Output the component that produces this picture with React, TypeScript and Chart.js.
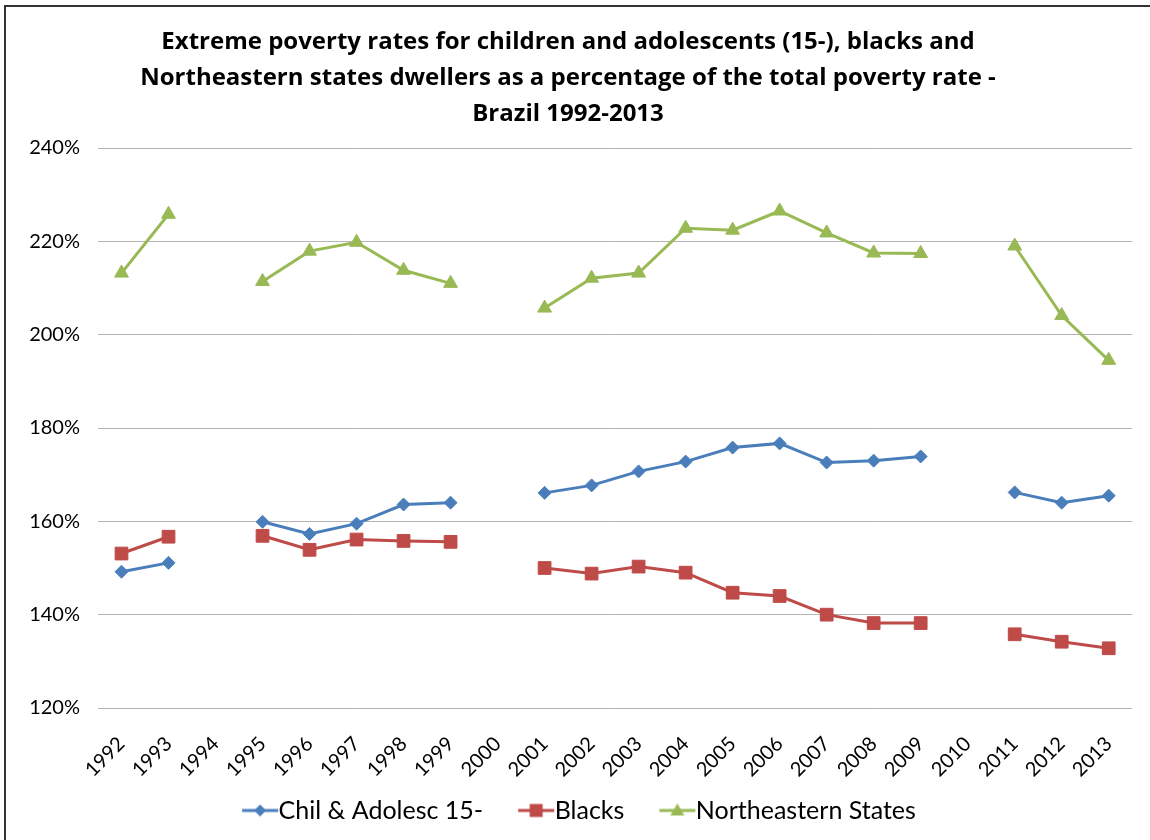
import React, { useEffect, useRef } from "react";
import { Chart, registerables } from "chart.js";

Chart.register(...registerables);

const years = [
  "1992", "1993", "1994", "1995", "1996", "1997", "1998", "1999", "2000", "2001", "2002",
  "2003", "2004", "2005", "2006", "2007", "2008", "2009", "2010", "2011", "2012", "2013",
];

const chilAdolesc = [
  149.2, 151.1, null, 159.9, 157.3, 159.5, 163.6, 164.0, null, 166.1, 167.7,
  170.7, 172.8, 175.8, 176.7, 172.6, 173.0, 173.9, null, 166.2, 164.0, 165.5,
];

const blacks = [
  153.1, 156.7, null, 156.9, 153.9, 156.1, 155.8, 155.6, null, 150.0, 148.8,
  150.3, 149.0, 144.7, 144.0, 140.0, 138.2, 138.2, null, 135.8, 134.2, 132.8,
];

const northeastern = [
  213.2, 225.8, null, 211.4, 217.9, 219.8, 213.8, 211.0, null, 205.7, 212.1,
  213.2, 222.8, 222.4, 226.5, 221.8, 217.5, 217.4, null, 219.0, 204.1, 194.5,
];

const seriesNames = ["Chil & Adolesc 15-", "Blacks", "Northeastern States"];
const titleLines = [
  "Extreme poverty rates for children and adolescents (15-), blacks and",
  "Northeastern states dwellers as a percentage of the total poverty rate -",
  "Brazil 1992-2013",
];

const BLUE = "#4A7EBB";
const RED = "#BE4B48";
const GREEN = "#98B954";
const FONT = "Lato, 'Open Sans', sans-serif";
const TITLE_FONT = "'Open Sans', Lato, sans-serif";

// legend icon: line with marker, drawn into a wide canvas so the line reaches the text
function legendIcon(color: string, kind: "diamond" | "square" | "triangle") {
  const c = document.createElement("canvas");
  c.width = 72;
  c.height = 18;
  const ctx = c.getContext("2d")!;
  ctx.strokeStyle = color;
  ctx.fillStyle = color;
  ctx.lineWidth = 3;
  ctx.beginPath();
  ctx.moveTo(35, 9);
  ctx.lineTo(71, 9);
  ctx.stroke();
  const cx = 53;
  ctx.beginPath();
  if (kind === "diamond") {
    ctx.moveTo(cx, 3);
    ctx.lineTo(cx + 6, 9);
    ctx.lineTo(cx, 15);
    ctx.lineTo(cx - 6, 9);
  } else if (kind === "square") {
    ctx.rect(cx - 6.5, 2.5, 13, 13);
  } else {
    ctx.moveTo(cx, 2);
    ctx.lineTo(cx + 7, 14);
    ctx.lineTo(cx - 7, 14);
  }
  ctx.closePath();
  ctx.fill();
  return c;
}

export default function App() {
  const ref = useRef<HTMLCanvasElement>(null);

  useEffect(() => {
    if (!ref.current) return;
    const icons = [
      legendIcon(BLUE, "diamond"),
      legendIcon(RED, "square"),
      legendIcon(GREEN, "triangle"),
    ];
    const chart = new Chart(ref.current, {
      type: "line",
      data: {
        labels: years,
        datasets: [
          {
            label: seriesNames[0],
            data: chilAdolesc,
            borderColor: BLUE,
            backgroundColor: BLUE,
            pointStyle: "rectRot",
            pointRadius: 6.5,
            pointBorderWidth: 1,
            borderWidth: 3,
            spanGaps: false,
          },
          {
            label: seriesNames[1],
            data: blacks,
            borderColor: RED,
            backgroundColor: RED,
            pointStyle: "rect",
            pointRadius: 9,
            pointBorderWidth: 1,
            borderWidth: 3,
            spanGaps: false,
          },
          {
            label: seriesNames[2],
            data: northeastern,
            borderColor: GREEN,
            backgroundColor: GREEN,
            pointStyle: "triangle",
            pointRadius: 8,
            pointBorderWidth: 1,
            borderWidth: 3,
            spanGaps: false,
          },
        ],
      },
      options: {
        animation: false,
        responsive: false,
        layout: { padding: { left: 0, right: 14, top: 0, bottom: 7 } },
        plugins: {
          title: {
            display: true,
            text: titleLines,
            color: "#000",
            font: { family: TITLE_FONT, size: 24, weight: "bold", lineHeight: 1.5 },
            padding: { top: 24, bottom: 16 },
          },
          legend: {
            position: "bottom",
            labels: {
              usePointStyle: true,
              pointStyleWidth: 46,
              generateLabels: (ch: any) =>
                ch.data.datasets.map((d: any, i: number) => ({
                  text: d.label,
                  pointStyle: icons[i],
                  fillStyle: d.borderColor,
                  strokeStyle: d.borderColor,
                  lineWidth: 0,
                  hidden: false,
                  datasetIndex: i,
                  fontColor: "#000",
                })),
              color: "#000",
              font: { family: FONT, size: 25 },
              padding: 13,
            },
          },
          tooltip: { enabled: false },
        },
        scales: {
          x: {
            offset: true,
            grid: { display: false, drawTicks: false },
            border: { display: false },
            ticks: {
              color: "#000",
              font: { family: FONT, size: 20 },
              minRotation: 45,
              maxRotation: 45,
              autoSkip: false,
              padding: 24,
            },
            afterFit: (s: any) => {
              s.height = 77;
            },
          },
          y: {
            min: 120,
            max: 240,
            grid: { color: "#b4b4b4", lineWidth: 1, drawTicks: false },
            border: { display: false },
            ticks: {
              stepSize: 20,
              color: "#000",
              font: { family: FONT, size: 20 },
              padding: 18,
              callback: (v: any) => v + "%",
            },
            afterFit: (s: any) => {
              s.width = 98;
            },
          },
        },
      },
    });
    return () => chart.destroy();
  }, []);

  return (
    <div
      style={{
        position: "absolute",
        left: 0,
        top: 0,
        width: 1150,
        height: 840,
        overflow: "hidden",
        background: "#fff",
      }}
    >
      <canvas ref={ref} width={1150} height={840} style={{ position: "absolute", left: 0, top: 0 }} />
      <div
        style={{
          position: "absolute",
          left: 4,
          top: 5,
          width: 1200,
          height: 900,
          borderLeft: "2px solid #333",
          borderTop: "2px solid #333",
          pointerEvents: "none",
        }}
      />
    </div>
  );
}
